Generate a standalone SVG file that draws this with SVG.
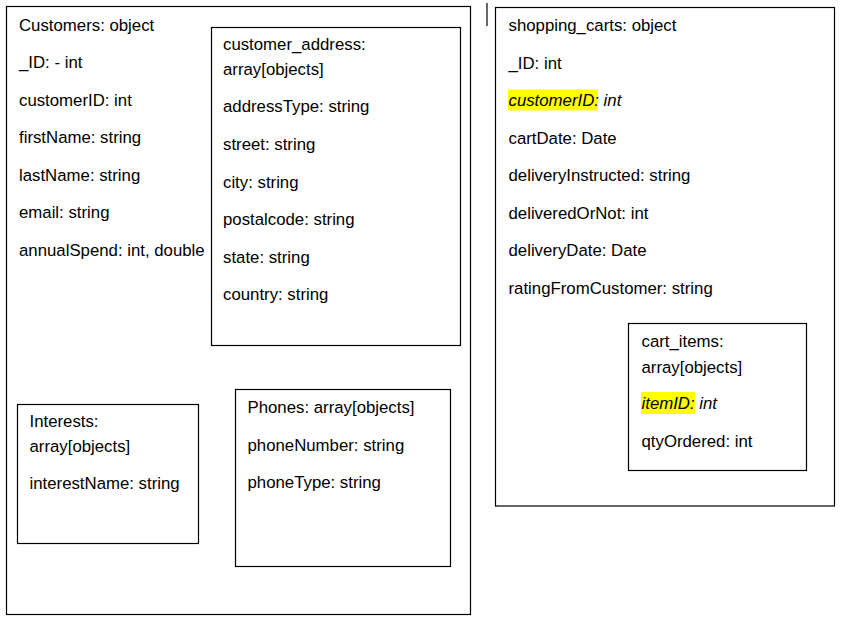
<svg xmlns="http://www.w3.org/2000/svg" width="846" height="630" viewBox="0 0 846 630">
<style>
  .box { fill: #ffffff; stroke: #000000; stroke-width: 1.2; }
  .t { font-family: "Liberation Sans", Arial, sans-serif; font-size: 16.8px; fill: #000000; }
  .i { font-style: italic; }
  .hl { fill: #ffff00; stroke: none; }
</style>
<rect x="0" y="0" width="846" height="630" fill="#ffffff"/>
<g id="customers">
  <rect class="box" x="6.5" y="6.5" width="464" height="608"/>
  <text class="t" x="19" y="30.5">Customers: object</text>
  <text class="t" x="19" y="68">_ID: - int</text>
  <text class="t" x="19" y="105.5">customerID: int</text>
  <text class="t" x="19" y="143">firstName: string</text>
  <text class="t" x="19" y="180.5">lastName: string</text>
  <text class="t" x="19" y="218">email: string</text>
  <text class="t" x="19" y="255.5">annualSpend: int, double</text>
</g>
<g id="customer_address">
  <rect class="box" x="211.5" y="27.5" width="249" height="318"/>
  <text class="t" x="223" y="50">customer_address:</text>
  <text class="t" x="223" y="75">array[objects]</text>
  <text class="t" x="223" y="112">addressType: string</text>
  <text class="t" x="223" y="150">street: string</text>
  <text class="t" x="223" y="187.5">city: string</text>
  <text class="t" x="223" y="225">postalcode: string</text>
  <text class="t" x="223" y="262.5">state: string</text>
  <text class="t" x="223" y="300">country: string</text>
</g>
<g id="interests">
  <rect class="box" x="17.5" y="404.5" width="181" height="139"/>
  <text class="t" x="29.5" y="426.7">Interests:</text>
  <text class="t" x="29.5" y="451.7">array[objects]</text>
  <text class="t" x="29.5" y="489">interestName: string</text>
</g>
<g id="phones">
  <rect class="box" x="235.5" y="389.5" width="215" height="177"/>
  <text class="t" x="247.5" y="413.3">Phones: array[objects]</text>
  <text class="t" x="247.5" y="451">phoneNumber: string</text>
  <text class="t" x="247.5" y="488.3">phoneType: string</text>
</g>
<g id="shopping_carts">
  <rect class="box" x="495.5" y="7.5" width="339" height="498.5"/>
  <rect class="hl" x="508" y="89.5" width="90" height="21"/>
  <text class="t" x="508.5" y="31">shopping_carts: object</text>
  <text class="t" x="508.5" y="69">_ID: int</text>
  <text class="t i" x="508.5" y="106">customerID: int</text>
  <text class="t" x="508.5" y="144">cartDate: Date</text>
  <text class="t" x="508.5" y="181">deliveryInstructed: string</text>
  <text class="t" x="508.5" y="219">deliveredOrNot: int</text>
  <text class="t" x="508.5" y="256">deliveryDate: Date</text>
  <text class="t" x="508.5" y="294">ratingFromCustomer: string</text>
</g>
<g id="cart_items">
  <rect class="box" x="628.5" y="323.5" width="178" height="147"/>
  <rect class="hl" x="641" y="392" width="54" height="22"/>
  <text class="t" x="641.5" y="347.3">cart_items:</text>
  <text class="t" x="641.5" y="372.7">array[objects]</text>
  <text class="t i" x="641.5" y="408.7">itemID: int</text>
  <text class="t" x="641.5" y="446.7">qtyOrdered: int</text>
</g>
<g id="connectors">
  <line x1="487" y1="3" x2="487" y2="26" stroke="#000000" stroke-width="1.2"/>
</g>
</svg>
